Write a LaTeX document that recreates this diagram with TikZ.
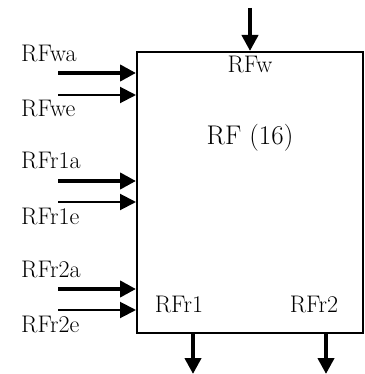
\documentclass[tikz,border=0pt]{standalone}
\usepackage{tikz}
\usetikzlibrary{arrows.meta}

\begin{document}
\begin{tikzpicture}[
  x=1pt, y=-1pt,
  fat/.style={-{Triangle[length=16pt,width=16pt]}, line width=4pt},
  slim/.style={-{Triangle[length=16pt,width=16pt]}, line width=2pt},
  lbl/.style={font=\fontsize{24}{28}\selectfont, inner sep=0pt},
  big/.style={font=\fontsize{27}{32}\selectfont, inner sep=0pt},
]
\useasboundingbox (0,0) rectangle (364,374);
% register file block
\node[draw, line width=2pt, fill=white, anchor=north west,
      minimum width=226pt, minimum height=281pt, inner sep=0pt] (rf) at (136,51) {};
\node[big, anchor=base] (title) at (250,145) {RF (16)};
\node[lbl, anchor=base] (pw)  at (250,73)  {RFw};
\node[lbl, anchor=base] (pr1) at (179,312) {RFr1};
\node[lbl, anchor=base] (pr2) at (314,312) {RFr2};

% input labels
\node[lbl, anchor=base west] (twa)  at (21,62)  {RFwa};
\node[lbl, anchor=base west] (twe)  at (21,117) {RFwe};
\node[lbl, anchor=base west] (tr1a) at (21,168) {RFr1a};
\node[lbl, anchor=base west] (tr1e) at (21,224) {RFr1e};
\node[lbl, anchor=base west] (tr2a) at (21,277) {RFr2a};
\node[lbl, anchor=base west] (tr2e) at (21,332) {RFr2e};

% free ends of the connectors
\coordinate (wa)  at (58,73);
\coordinate (we)  at (58,95);
\coordinate (r1a) at (58,181);
\coordinate (r1e) at (58,202);
\coordinate (r2a) at (58,289);
\coordinate (r2e) at (58,310);
\coordinate (win) at (250,8);
\coordinate (o1)  at (193,374);
\coordinate (o2)  at (326,374);

% inputs
\draw[fat]  (wa)  -- (wa -| rf.west);
\draw[slim] (we)  -- (we -| rf.west);
\draw[fat]  (r1a) -- (r1a -| rf.west);
\draw[slim] (r1e) -- (r1e -| rf.west);
\draw[fat]  (r2a) -- (r2a -| rf.west);
\draw[slim] (r2e) -- (r2e -| rf.west);
\draw[fat]  (win) -- (win |- rf.north);

% outputs
\draw[fat] (o1 |- rf.south) -- (o1);
\draw[fat] (o2 |- rf.south) -- (o2);
\end{tikzpicture}
\end{document}
